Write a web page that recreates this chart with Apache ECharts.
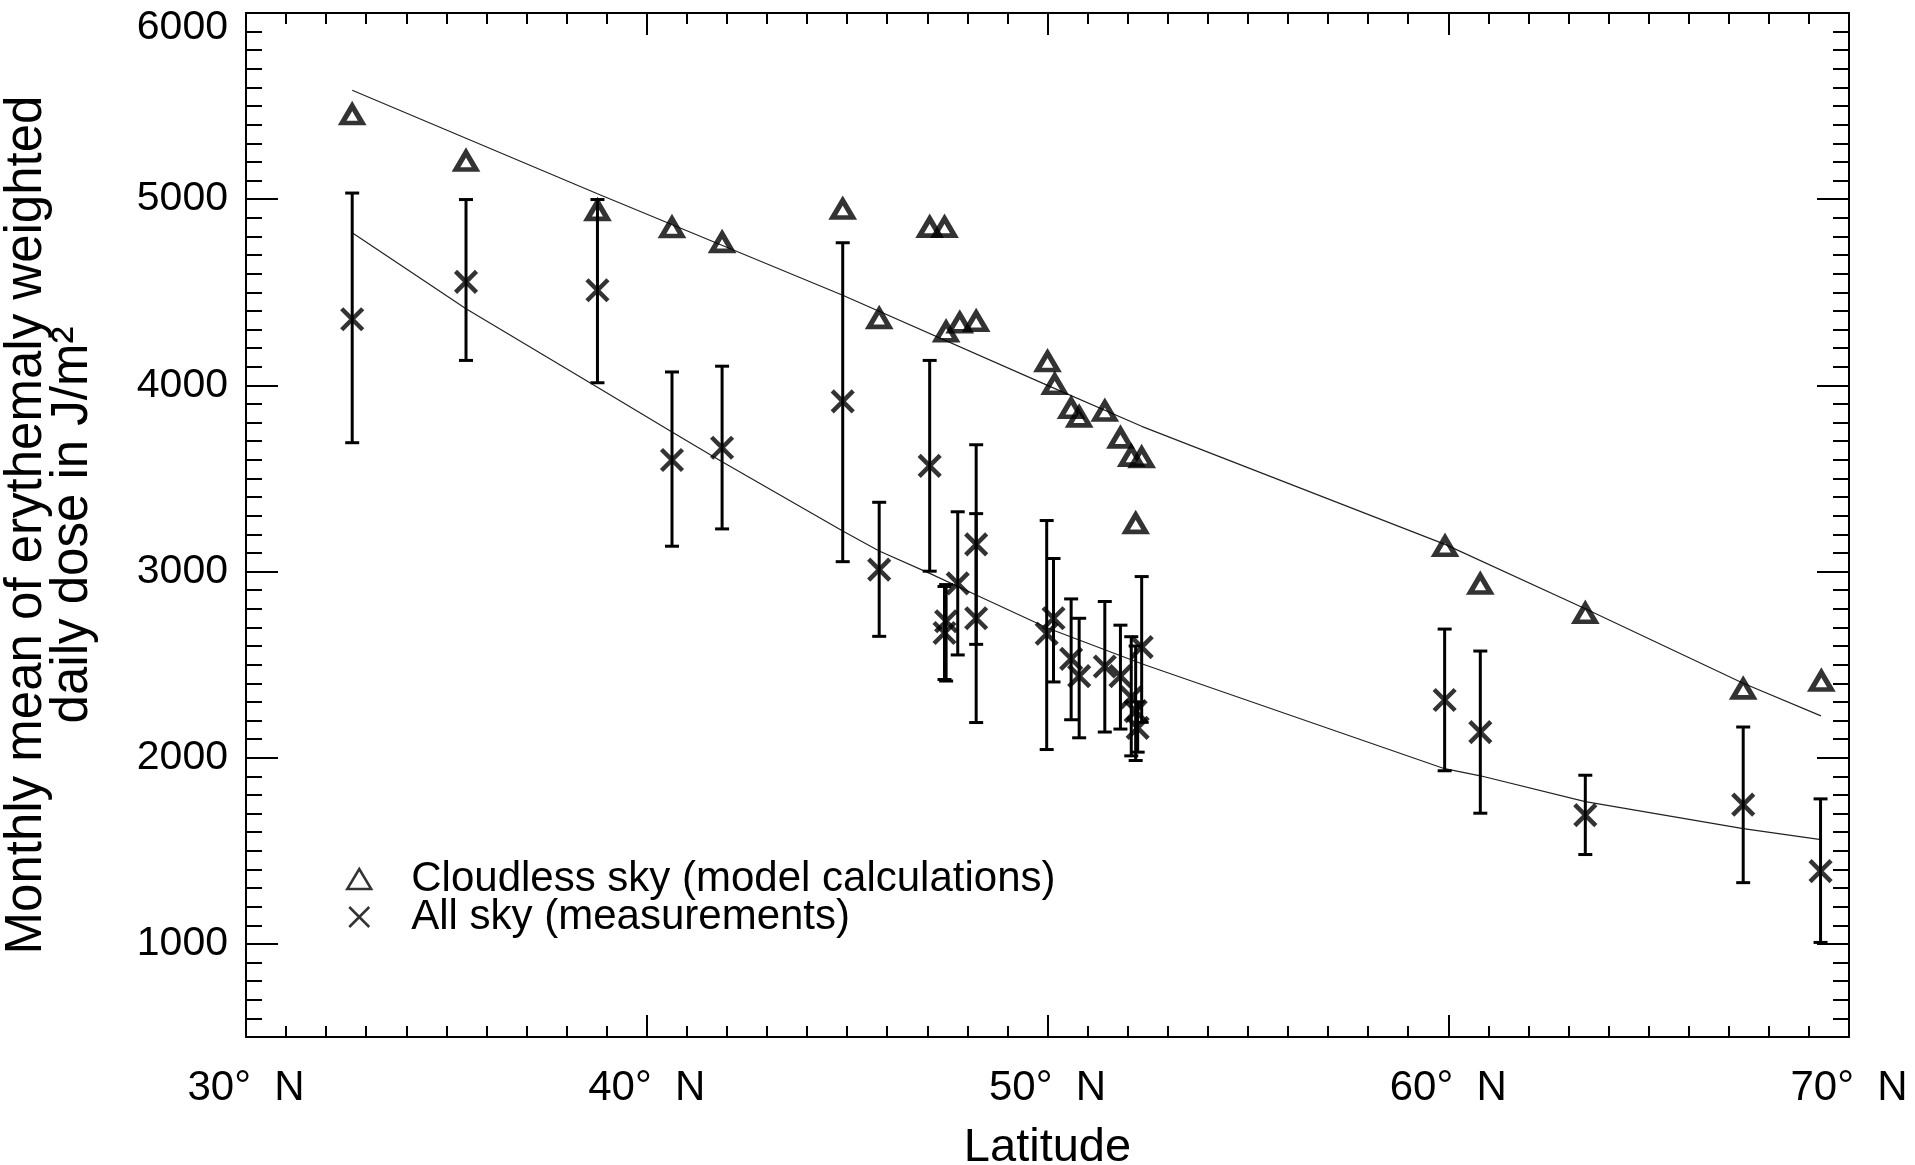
<!DOCTYPE html>
<html>
<head>
<meta charset="utf-8">
<script src="https://cdn.jsdelivr.net/npm/echarts@6/dist/echarts.min.js"></script>
<style>
  html, body { margin: 0; padding: 0; background: #fff; }
  #chart { width: 1915px; height: 1165px; }
</style>
</head>
<body>
<div id="chart"></div>
<script>
// ---- Data ----
// Cloudless sky (model calculations): triangles
const latCloud = [32.65, 35.49, 38.77, 40.63, 41.88, 44.89, 45.80, 47.06, 47.43, 47.47, 47.81, 48.22,
                  50.00, 50.18, 50.59, 50.79, 51.43, 51.82, 52.09, 52.20, 52.35, 59.92, 60.80, 63.42, 67.36, 69.31];
const valCloud = [5455, 5205, 4940, 4848, 4768, 4947, 4360, 4850, 4850, 4288, 4336, 4344,
                  4128, 4006, 3877, 3831, 3862, 3718, 3620, 3259, 3613, 3136, 2933, 2776, 2370, 2412];

// All sky (measurements): crosses with error bars
const latAll  = [32.65, 35.49, 38.77, 40.63, 41.88, 44.89, 45.80, 47.06, 47.43, 47.47, 47.76, 48.22, 48.22,
                 49.98, 50.15, 50.59, 50.79, 51.43, 51.82, 52.09, 52.20, 52.25, 52.35, 59.91, 60.80, 63.42, 67.36, 69.29];
const valAll  = [4355, 4556, 4511, 3599, 3665, 3914, 3010, 3568, 2670, 2733, 2936, 3146, 2749,
                 2666, 2749, 2531, 2438, 2490, 2438, 2324, 2250, 2160, 2594, 2310, 2138, 1692, 1748, 1391];
const lowAll  = [3692, 4134, 4014, 3136, 3229, 3053, 2652, 3002, 2420, 2412, 2552, 2609, 2189,
                 2044, 2407, 2204, 2107, 2138, 2154, 2010, 1985, 2030, 2190, 1930, 1702, 1480, 1329, 1008];
const highAll = [5033, 4998, 4998, 4072, 4103, 4766, 3372, 4134, 2920, 2930, 3321, 3681, 3311,
                 3274, 3070, 2853, 2749, 2839, 2712, 2650, 2600, 2300, 2973, 2691, 2573, 1906, 2165, 1779];

// Fitted curves (piecewise between stations)
const latFitCloud = [32.65, 38.77, 44.89, 50.00, 52.35, 59.92, 63.42, 67.36, 69.30];
const valFitCloud = [5585, 5029, 4484, 4000, 3780, 3146, 2800, 2400, 2225];
const latFitAll   = [32.65, 35.49, 38.77, 40.63, 41.88, 44.89, 45.80, 47.06, 48.22, 50.00, 52.35, 59.91, 60.80, 63.42, 67.36, 69.30];
const valFitAll   = [4820, 4412, 3990, 3750, 3590, 3218, 3110, 2990, 2874, 2697, 2505, 1941, 1903, 1764, 1619, 1560];

// Tick labels
const yMajor = [1000, 2000, 3000, 4000, 5000, 6000];
const xMajorLabels = { 30: '30°  N', 40: '40°  N', 50: '50°  N', 60: '60°  N', 70: '70°  N' };

const nameCloud = 'Cloudless sky (model calculations)';
const nameAll = 'All sky (measurements)';

// ---- Build ----
const FONT = 'Liberation Sans';
const zip = (a, b) => a.map((v, i) => [v, b[i]]);
const errData = latAll.map((v, i) => [v, lowAll[i], highAll[i]]);
const crossPath = 'path://M0,0L10,10M10,0L0,10';

const chart = echarts.init(document.getElementById('chart'), null, { renderer: 'canvas' });

const baseX = {
  type: 'value', min: 30, max: 70, interval: 10,
  axisLine: { show: true, onZero: false, lineStyle: { color: '#000', width: 2 } },
  axisTick: { show: true, inside: true, length: 22, lineStyle: { color: '#000', width: 2 } },
  minorTick: { show: true, splitNumber: 10, length: 11, lineStyle: { color: '#000', width: 2 } },
  splitLine: { show: false }, minorSplitLine: { show: false }
};
const baseY = {
  type: 'value', min: 500, max: 6000,
  splitLine: { show: false }
};

chart.setOption({
  animation: false,
  backgroundColor: '#fff',
  grid: { left: 246, right: 66, top: 13, bottom: 128, containLabel: false, outerBoundsMode: 'none' },
  legend: {
    orient: 'vertical', left: 341, top: 853,
    itemWidth: 24, itemHeight: 20, itemGap: -4,
    selectedMode: false,
    textStyle: { fontFamily: FONT, fontSize: 42, color: '#000', padding: [0, 0, 0, 35] },
    data: [
      { name: nameCloud, icon: 'triangle', itemStyle: { color: 'rgba(0,0,0,0)', borderColor: '#000', borderWidth: 2.5 } },
      { name: nameAll, icon: crossPath, itemStyle: { color: 'rgba(0,0,0,0)', borderColor: '#000', borderWidth: 2.5 } }
    ]
  },
  xAxis: [
    Object.assign({}, baseX, {
      position: 'bottom',
      axisLabel: { show: true, margin: 30, fontFamily: FONT, fontSize: 42, color: '#000',
                   formatter: v => xMajorLabels[v] || '' },
      name: 'Latitude', nameLocation: 'middle', nameGap: 88,
      nameTextStyle: { fontFamily: FONT, fontSize: 47, color: '#000' }
    }),
    Object.assign({}, baseX, { position: 'top', axisLabel: { show: false } })
  ],
  yAxis: [
    Object.assign({}, baseY, {
      position: 'left', interval: 100,
      axisLine: { show: true, onZero: false, lineStyle: { color: '#000', width: 2 } },
      axisTick: { show: true, inside: true, length: 16, lineStyle: { color: '#000', width: 2 } },
      axisLabel: { show: false }
    }),
    Object.assign({}, baseY, {
      position: 'left',
      axisLine: { show: false },
      axisTick: { show: true, inside: true, length: 32, customValues: yMajor, lineStyle: { color: '#000', width: 2 } },
      axisLabel: {
        show: true, customValues: yMajor, margin: 18, fontFamily: FONT, fontSize: 41, color: '#000',
        formatter: v => (v === 6000 ? '{t|' + v + '}' : String(v)),
        rich: { t: { fontFamily: FONT, fontSize: 41, color: '#000', padding: [30, 0, 0, 0] } }
      },
      name: 'Monthly mean of erythemaly weighted\ndaily dose in J/m²',
      nameLocation: 'middle', nameRotate: 90, nameGap: 150,
      nameTextStyle: { fontFamily: FONT, fontSize: 51, color: '#000', lineHeight: 46, align: 'center' }
    }),
    Object.assign({}, baseY, {
      position: 'right', interval: 100,
      axisLine: { show: true, onZero: false, lineStyle: { color: '#000', width: 2 } },
      axisTick: { show: true, inside: true, length: 16, lineStyle: { color: '#000', width: 2 } },
      axisLabel: { show: false }
    }),
    Object.assign({}, baseY, {
      position: 'right',
      axisLine: { show: false },
      axisTick: { show: true, inside: true, length: 32, customValues: yMajor, lineStyle: { color: '#000', width: 2 } },
      axisLabel: { show: false }
    })
  ],
  series: [
    {
      name: 'fitCloud', type: 'line', xAxisIndex: 0, yAxisIndex: 0,
      data: zip(latFitCloud, valFitCloud), showSymbol: false, symbol: 'none', smooth: false,
      lineStyle: { color: '#222', width: 1.2 }, z: 1, silent: true
    },
    {
      name: 'fitAll', type: 'line', xAxisIndex: 0, yAxisIndex: 0,
      data: zip(latFitAll, valFitAll), showSymbol: false, symbol: 'none', smooth: false,
      lineStyle: { color: '#222', width: 1.2 }, z: 1, silent: true
    },
    {
      name: 'errorbars', type: 'custom', xAxisIndex: 0, yAxisIndex: 0,
      data: errData, encode: { x: 0, y: [1, 2] }, z: 2, silent: true,
      renderItem: function (params, api) {
        const x = api.value(0), lo = api.value(1), hi = api.value(2);
        const p1 = api.coord([x, lo]), p2 = api.coord([x, hi]);
        const hw = 7;
        const st = { stroke: '#000', lineWidth: 3 };
        return {
          type: 'group',
          children: [
            { type: 'line', shape: { x1: p1[0], y1: p1[1], x2: p2[0], y2: p2[1] }, style: st },
            { type: 'line', shape: { x1: p1[0] - hw, y1: p1[1], x2: p1[0] + hw, y2: p1[1] }, style: st },
            { type: 'line', shape: { x1: p2[0] - hw, y1: p2[1], x2: p2[0] + hw, y2: p2[1] }, style: st }
          ]
        };
      }
    },
    {
      name: nameCloud, type: 'scatter', xAxisIndex: 0, yAxisIndex: 0,
      data: zip(latCloud, valCloud), symbol: 'triangle', symbolSize: [20, 17],
      itemStyle: { color: 'rgba(0,0,0,0)', borderColor: '#000', borderWidth: 5 }, z: 3
    },
    {
      name: nameAll, type: 'scatter', xAxisIndex: 0, yAxisIndex: 0,
      data: zip(latAll, valAll), symbol: crossPath, symbolSize: 21,
      itemStyle: { color: 'rgba(0,0,0,0)', borderColor: '#000', borderWidth: 4.5 }, z: 3
    }
  ]
});
</script>
</body>
</html>
